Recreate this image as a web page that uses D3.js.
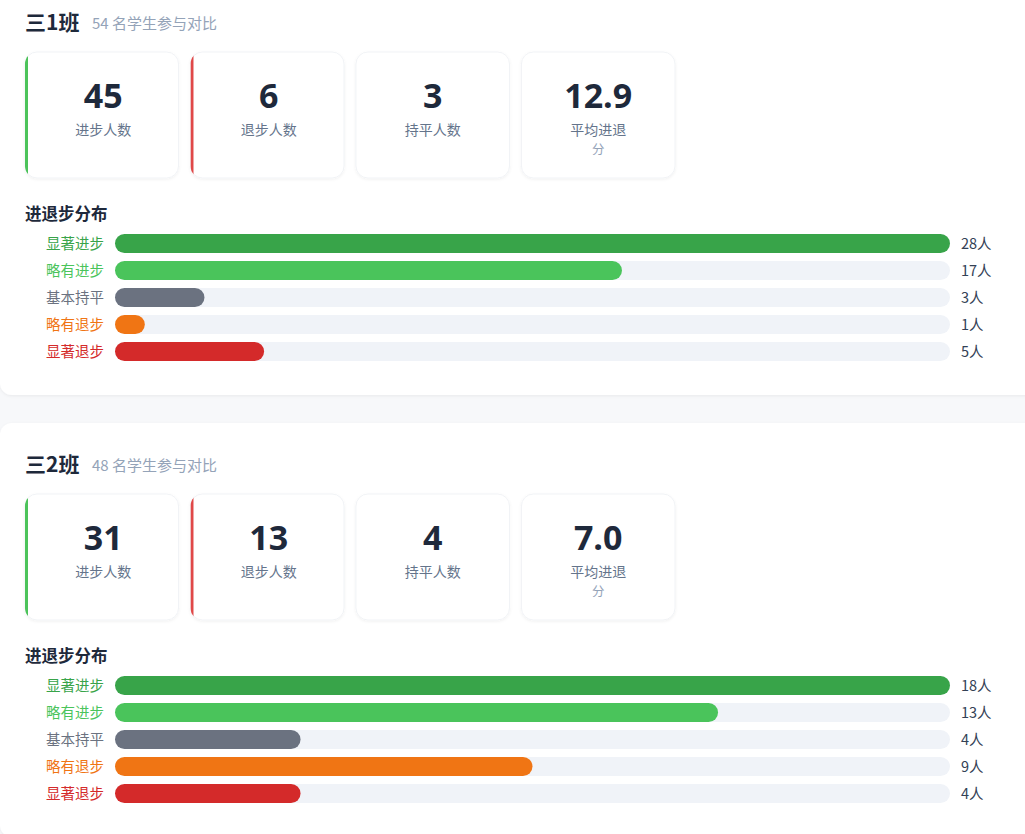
<!DOCTYPE html>
<html lang="zh">
<head>
<meta charset="utf-8">
<title>进退步对比</title>
<script src="https://d3js.org/d3.v7.min.js"></script>
<style>
  body { margin: 0; background: #f7f8fa; overflow: hidden; }
  text { font-family: "Noto Sans CJK SC", "Noto Sans", sans-serif; }
  .num { font-family: "Open Sans", "Noto Sans", sans-serif; }
</style>
</head>
<body>
<div id="chart"></div>
<script>
// data
var classNames = ["三1班", "三2班"];
var studentCounts = [54, 48];
var statLabels = ["进步人数", "退步人数", "持平人数", "平均进退"];
var statValues = [["45", "6", "3", "12.9"], ["31", "13", "4", "7.0"]];
var levelNames = ["显著进步", "略有进步", "基本持平", "略有退步", "显著退步"];
var levelCounts = [[28, 17, 3, 1, 5], [18, 13, 4, 9, 4]];

var levelColors = ["#38a449", "#4ac45b", "#6b7280", "#f07514", "#d42a2a"];
var accentColors = ["#4cc35a", "#e04848", null, null];

var w = 1025, h = 834;
var svg = d3.select("#chart").append("svg")
  .attr("width", w).attr("height", h);

var defs = svg.append("defs");
var shadow = defs.append("filter").attr("id", "shadow")
  .attr("x", "-5%").attr("y", "-5%").attr("width", "110%").attr("height", "115%");
shadow.append("feDropShadow").attr("dx", 0).attr("dy", 1).attr("stdDeviation", 1.5)
  .attr("flood-color", "#000").attr("flood-opacity", 0.06);

var cardTop = [-19, 423];

classNames.forEach(function(name, ci) {
  var g = svg.append("g").attr("transform", "translate(0," + cardTop[ci] + ")");

  g.append("rect")
    .attr("x", 0).attr("y", 0).attr("width", 1050).attr("height", 414)
    .attr("rx", 12).attr("fill", "#fff")
    .attr("filter", "url(#shadow)");

  // header
  g.append("text").attr("x", 25).attr("y", 49)
    .attr("font-size", 21).attr("font-weight", 700).attr("fill", "#1e293b")
    .text(name);
  g.append("text").attr("x", 92).attr("y", 48)
    .attr("font-size", 15).attr("fill", "#94a3b8")
    .text(studentCounts[ci] + " 名学生参与对比");

  // stat cards
  var sx = d3.scaleBand().domain(d3.range(4)).range([25, 675]).paddingInner(0.072);
  statLabels.forEach(function(lab, si) {
    var x = sx(si), cw = sx.bandwidth(), y = 71, ch = 126;
    var cx = x + cw / 2 + (accentColors[si] ? 1.5 : 0);
    var clipId = "clip" + ci + "_" + si;
    defs.append("clipPath").attr("id", clipId)
      .append("rect").attr("x", x).attr("y", cardTop[ci] + y)
      .attr("width", cw).attr("height", ch).attr("rx", 12);
    var sg = g.append("g");
    sg.append("rect").attr("x", x).attr("y", y).attr("width", cw).attr("height", ch)
      .attr("rx", 12).attr("fill", "#fff").attr("stroke", "#f1f3f6")
      .attr("filter", "url(#shadow)");
    if (accentColors[si]) {
      g.append("g").attr("clip-path", "url(#" + clipId + ")")
        .attr("transform", "translate(0," + (-cardTop[ci]) + ")")
        .append("rect").attr("x", x).attr("y", cardTop[ci] + y)
        .attr("width", 3).attr("height", ch).attr("fill", accentColors[si]);
    }
    sg.append("text").attr("class", "num")
      .attr("x", cx).attr("y", y + 56)
      .attr("text-anchor", "middle").attr("font-size", 34).attr("font-weight", 700)
      .attr("fill", "#1e293b").text(statValues[ci][si]);
    sg.append("text")
      .attr("x", cx).attr("y", y + 83)
      .attr("text-anchor", "middle").attr("font-size", 14).attr("fill", "#64748b")
      .text(lab);
    if (si === 3) {
      sg.append("text")
        .attr("x", cx).attr("y", y + 102)
        .attr("text-anchor", "middle").attr("font-size", 12.5).attr("fill", "#94a3b8")
        .text("分");
    }
  });

  // distribution
  g.append("text").attr("x", 25).attr("y", 239)
    .attr("font-size", 16.5).attr("font-weight", 700).attr("fill", "#1e293b")
    .text("进退步分布");

  var counts = levelCounts[ci];
  var x = d3.scaleLinear().domain([0, d3.max(counts)]).range([115, 950]);
  var y = d3.scaleBand().domain(levelNames).range([253, 380])
    .paddingInner(8 / 27).paddingOuter(0);
  var bh = y.bandwidth();

  var rows = g.selectAll(".row").data(levelNames).enter().append("g")
    .attr("class", "row")
    .attr("transform", function(d) { return "translate(0," + y(d) + ")"; });

  rows.append("rect").attr("x", x(0)).attr("y", 0)
    .attr("width", x.range()[1] - x(0)).attr("height", bh)
    .attr("rx", bh / 2).attr("fill", "#f0f3f8");
  rows.append("rect").attr("x", x(0)).attr("y", 0)
    .attr("width", function(d, i) { return Math.max(x(counts[i]) - x(0), bh); })
    .attr("height", bh).attr("rx", bh / 2)
    .attr("fill", function(d, i) { return levelColors[i]; });
  rows.append("text").attr("x", 104).attr("y", bh / 2 + 5)
    .attr("text-anchor", "end").attr("font-size", 14.5)
    .attr("fill", function(d, i) { return levelColors[i]; })
    .text(function(d) { return d; });
  rows.append("text").attr("x", 961).attr("y", bh / 2 + 5)
    .attr("font-size", 14.5).attr("fill", "#334155")
    .text(function(d, i) { return counts[i] + "人"; });
});
</script>
</body>
</html>
